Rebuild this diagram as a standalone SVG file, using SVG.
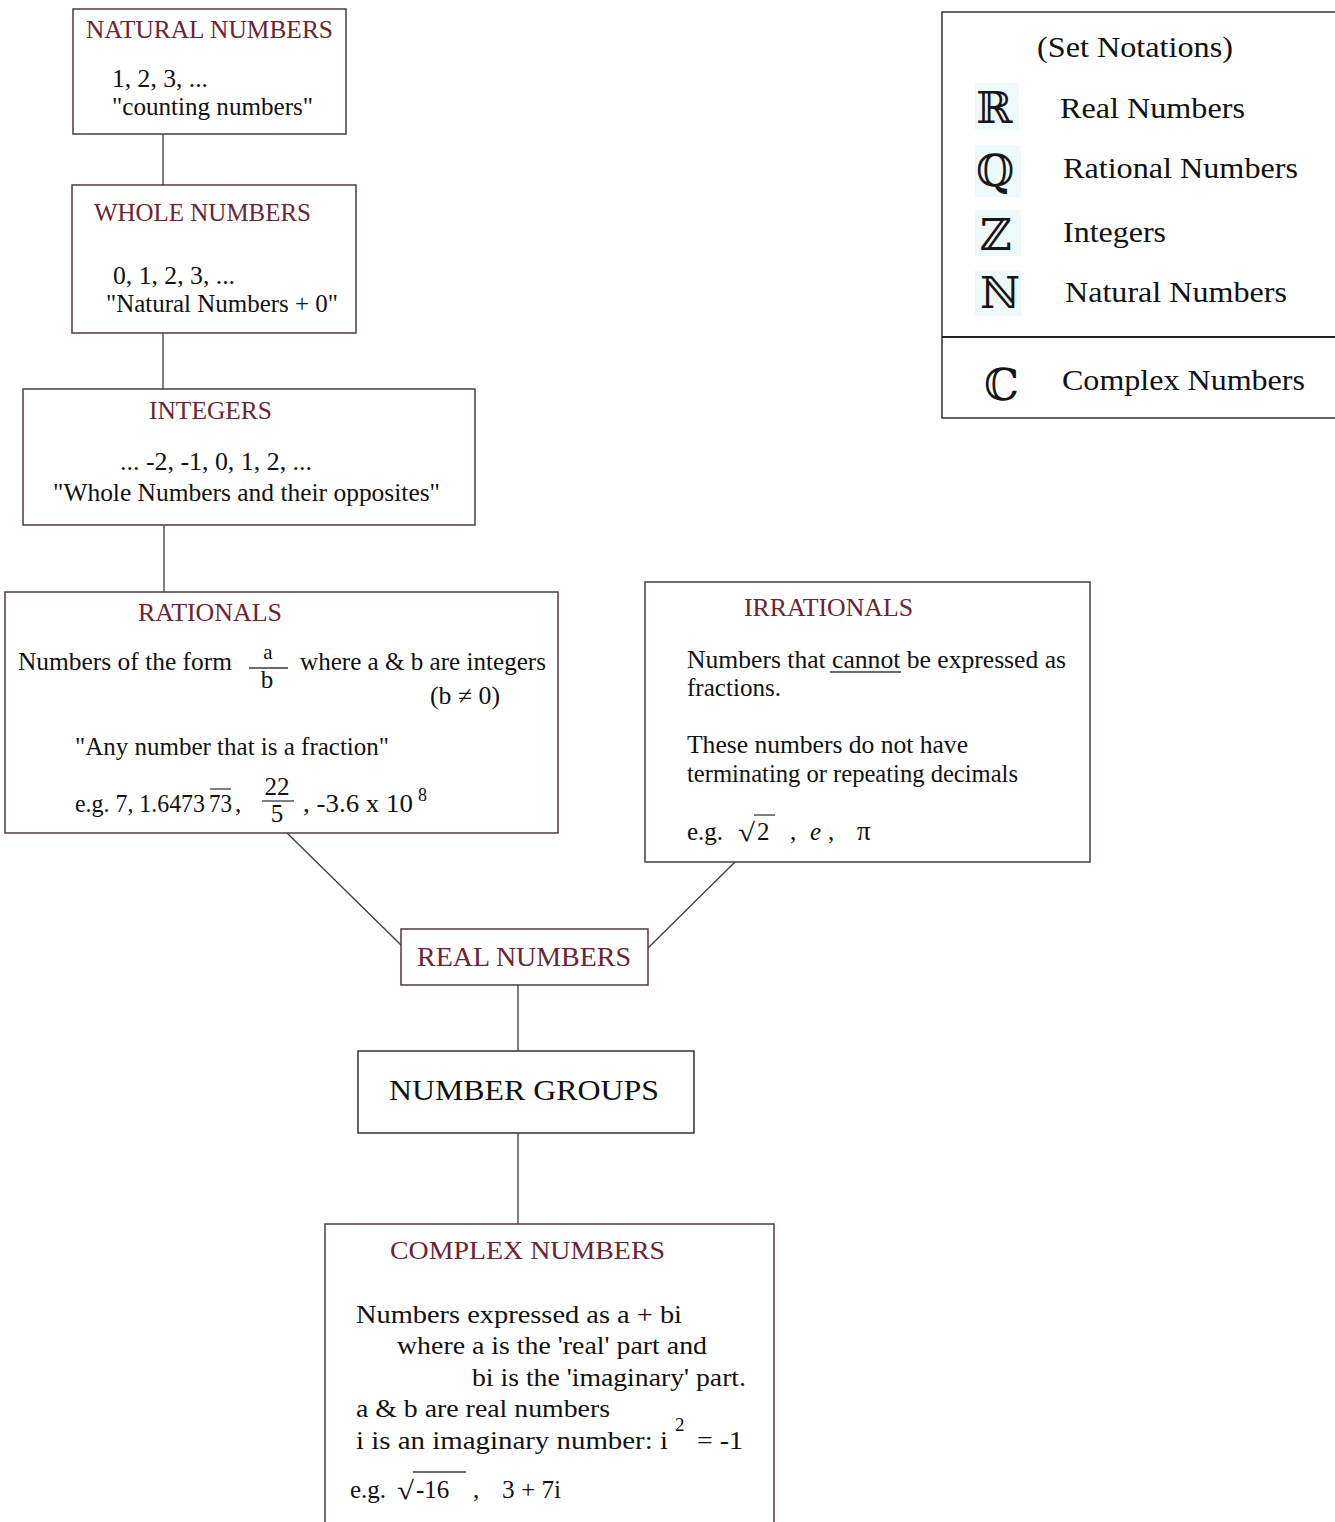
<svg xmlns="http://www.w3.org/2000/svg" width="1335" height="1522" viewBox="0 0 1335 1522">
<style>
.box{fill:#fff;stroke:#4d3b3f;stroke-width:1.5}
.t{font-family:"Liberation Serif","Times New Roman",serif;fill:#6b2433}
.b{font-family:"Liberation Serif","Times New Roman",serif;fill:#111}
.ds{font-family:"DejaVu Serif","DejaVu Sans",serif;fill:#161616}
.ln{stroke:#3a3a3a;stroke-width:1.3;fill:none}
.hl{fill:#eef9f9}
</style>
<rect width="1335" height="1522" fill="#fff"/>
<g id="connectors">
<line class="ln" x1="163" y1="134" x2="163" y2="185"/>
<line class="ln" x1="163" y1="333" x2="163" y2="389"/>
<line class="ln" x1="164" y1="525" x2="164" y2="592"/>
<line class="ln" x1="287" y1="833" x2="401" y2="945"/>
<line class="ln" x1="735" y1="862" x2="648" y2="948"/>
<line class="ln" x1="518" y1="985" x2="518" y2="1051"/>
<line class="ln" x1="518" y1="1133" x2="518" y2="1224"/>
</g>
<g id="natural" font-size="25">
<rect class="box" x="73" y="9" width="273" height="125"/>
<text class="t" x="86" y="38" textLength="247" lengthAdjust="spacingAndGlyphs">NATURAL NUMBERS</text>
<text class="b" x="112" y="87" textLength="96" lengthAdjust="spacingAndGlyphs">1, 2, 3, ...</text>
<text class="b" x="112" y="115" textLength="201" lengthAdjust="spacingAndGlyphs">"counting numbers"</text>
</g>
<g id="whole" font-size="25">
<rect class="box" x="72" y="185" width="284" height="148"/>
<text class="t" x="94" y="221" textLength="217" lengthAdjust="spacingAndGlyphs">WHOLE NUMBERS</text>
<text class="b" x="113" y="284" textLength="122" lengthAdjust="spacingAndGlyphs">0, 1, 2, 3, ...</text>
<text class="b" x="106" y="312" textLength="232" lengthAdjust="spacingAndGlyphs">"Natural Numbers + 0"</text>
</g>
<g id="integers" font-size="25">
<rect class="box" x="23" y="389" width="452" height="136"/>
<text class="t" x="149" y="419" textLength="123" lengthAdjust="spacingAndGlyphs">INTEGERS</text>
<text class="b" x="120" y="470" textLength="192" lengthAdjust="spacingAndGlyphs">... -2, -1, 0, 1, 2, ...</text>
<text class="b" x="53" y="501" textLength="387" lengthAdjust="spacingAndGlyphs">"Whole Numbers and their opposites"</text>
</g>
<g id="rationals" font-size="25">
<rect class="box" x="5" y="592" width="553" height="241"/>
<text class="t" x="138" y="621" textLength="144" lengthAdjust="spacingAndGlyphs">RATIONALS</text>
<text class="b" x="18" y="670" textLength="214" lengthAdjust="spacingAndGlyphs">Numbers of the form</text>
<text class="b" x="268" y="659" text-anchor="middle" font-size="21">a</text>
<line class="ln" x1="249" y1="668" x2="288" y2="668"/>
<text class="b" x="267" y="688" text-anchor="middle">b</text>
<text class="b" x="300" y="670" textLength="246" lengthAdjust="spacingAndGlyphs">where a &amp; b are integers</text>
<text class="b" x="430" y="704" textLength="70" lengthAdjust="spacingAndGlyphs">(b ≠ 0)</text>
<text class="b" x="75" y="755" textLength="314" lengthAdjust="spacingAndGlyphs">"Any number that is a fraction"</text>
<text class="b" x="75" y="812" textLength="130" lengthAdjust="spacingAndGlyphs">e.g.  7, 1.6473</text>
<text class="b" x="209" y="812" textLength="23" lengthAdjust="spacingAndGlyphs">73</text>
<text class="b" x="235" y="812">,</text>
<line class="ln" x1="210" y1="789" x2="231" y2="789"/>
<text class="b" x="277" y="795" text-anchor="middle">22</text>
<line class="ln" x1="262" y1="801" x2="294" y2="801"/>
<text class="b" x="277" y="822" text-anchor="middle">5</text>
<text class="b" x="303" y="812" textLength="110" lengthAdjust="spacingAndGlyphs">,  -3.6 x 10</text>
<text class="b" x="418" y="801" font-size="18">8</text>
</g>
<g id="irrationals" font-size="25">
<rect class="box" x="645" y="582" width="445" height="280"/>
<text class="t" x="744" y="616" textLength="169" lengthAdjust="spacingAndGlyphs">IRRATIONALS</text>
<text class="b" x="687" y="668" textLength="379" lengthAdjust="spacingAndGlyphs">Numbers that cannot be expressed as</text>
<line class="ln" x1="830" y1="672" x2="901" y2="672"/>
<text class="b" x="687" y="696" textLength="94" lengthAdjust="spacingAndGlyphs">fractions.</text>
<text class="b" x="687" y="753" textLength="281" lengthAdjust="spacingAndGlyphs">These numbers do not have</text>
<text class="b" x="687" y="782" textLength="331" lengthAdjust="spacingAndGlyphs">terminating or repeating decimals</text>
<text class="b" x="687" y="840">e.g.</text>
<text class="b" x="738" y="841" font-size="26" textLength="17" lengthAdjust="spacingAndGlyphs">√</text>
<line class="ln" x1="754" y1="815" x2="775" y2="815"/>
<text class="b" x="757" y="840">2</text>
<text class="b" x="790" y="840">,</text>
<text class="b" x="810" y="840" font-style="italic">e</text>
<text class="b" x="828" y="840">,</text>
<text class="b" x="857" y="840" font-size="27">π</text>
</g>
<g id="real">
<rect class="box" x="401" y="929" width="247" height="56"/>
<text class="t" x="417" y="966" font-size="27" textLength="214" lengthAdjust="spacingAndGlyphs">REAL NUMBERS</text>
</g>
<g id="groups">
<rect class="box" x="358" y="1051" width="336" height="82" style="stroke:#333"/>
<text class="b" x="389" y="1100" font-size="30" textLength="270" lengthAdjust="spacingAndGlyphs">NUMBER GROUPS</text>
</g>
<g id="complex" font-size="26">
<rect class="box" x="325" y="1224" width="449" height="310"/>
<text class="t" x="390" y="1259" font-size="26" textLength="275" lengthAdjust="spacingAndGlyphs">COMPLEX NUMBERS</text>
<text class="b" x="356" y="1323" textLength="326" lengthAdjust="spacingAndGlyphs">Numbers expressed as  a + bi</text>
<text class="b" x="397" y="1354" textLength="310" lengthAdjust="spacingAndGlyphs">where a is the 'real' part and</text>
<text class="b" x="472" y="1386" textLength="274" lengthAdjust="spacingAndGlyphs">bi is the 'imaginary' part.</text>
<text class="b" x="356" y="1417" textLength="254" lengthAdjust="spacingAndGlyphs">a &amp; b are real numbers</text>
<text class="b" x="356" y="1449" textLength="312" lengthAdjust="spacingAndGlyphs">i is an imaginary number:   i</text>
<text class="b" x="675" y="1431" font-size="19">2</text>
<text class="b" x="697" y="1449" textLength="46" lengthAdjust="spacingAndGlyphs">= -1</text>
<text class="b" x="350" y="1498" font-size="25">e.g.</text>
<text class="b" x="397" y="1499" textLength="17" lengthAdjust="spacingAndGlyphs">√</text>
<line class="ln" x1="413" y1="1472" x2="466" y2="1472"/>
<text class="b" x="416" y="1498" font-size="25">-16</text>
<text class="b" x="473" y="1498" font-size="25">,</text>
<text class="b" x="502" y="1498" font-size="25" textLength="59" lengthAdjust="spacingAndGlyphs">3 + 7i</text>
</g>
<g id="legend" font-size="30">
<rect class="box" x="942" y="12" width="400" height="406" style="stroke:#333"/>
<line x1="942" y1="337" x2="1335" y2="337" stroke="#222" stroke-width="2.2"/>
<text class="b" x="1037" y="57" textLength="196" lengthAdjust="spacingAndGlyphs">(Set Notations)</text>
<rect class="hl" x="975" y="83" width="44" height="47"/>
<rect class="hl" x="975" y="145" width="46" height="52"/>
<rect class="hl" x="975" y="210" width="46" height="46"/>
<rect class="hl" x="975" y="270" width="46" height="46"/>
<text class="ds" x="976" y="123" font-size="44">ℝ</text>
<text class="ds" x="976" y="186" font-size="44">ℚ</text>
<text class="ds" x="980" y="250" font-size="44">ℤ</text>
<text class="ds" x="980" y="308" font-size="44">ℕ</text>
<text class="ds" x="984" y="400" font-size="44">ℂ</text>
<text class="b" x="1060" y="118" textLength="185" lengthAdjust="spacingAndGlyphs">Real Numbers</text>
<text class="b" x="1063" y="178" textLength="235" lengthAdjust="spacingAndGlyphs">Rational Numbers</text>
<text class="b" x="1063" y="242" textLength="103" lengthAdjust="spacingAndGlyphs">Integers</text>
<text class="b" x="1065" y="302" textLength="222" lengthAdjust="spacingAndGlyphs">Natural Numbers</text>
<text class="b" x="1062" y="390" textLength="243" lengthAdjust="spacingAndGlyphs">Complex Numbers</text>
</g>
</svg>
